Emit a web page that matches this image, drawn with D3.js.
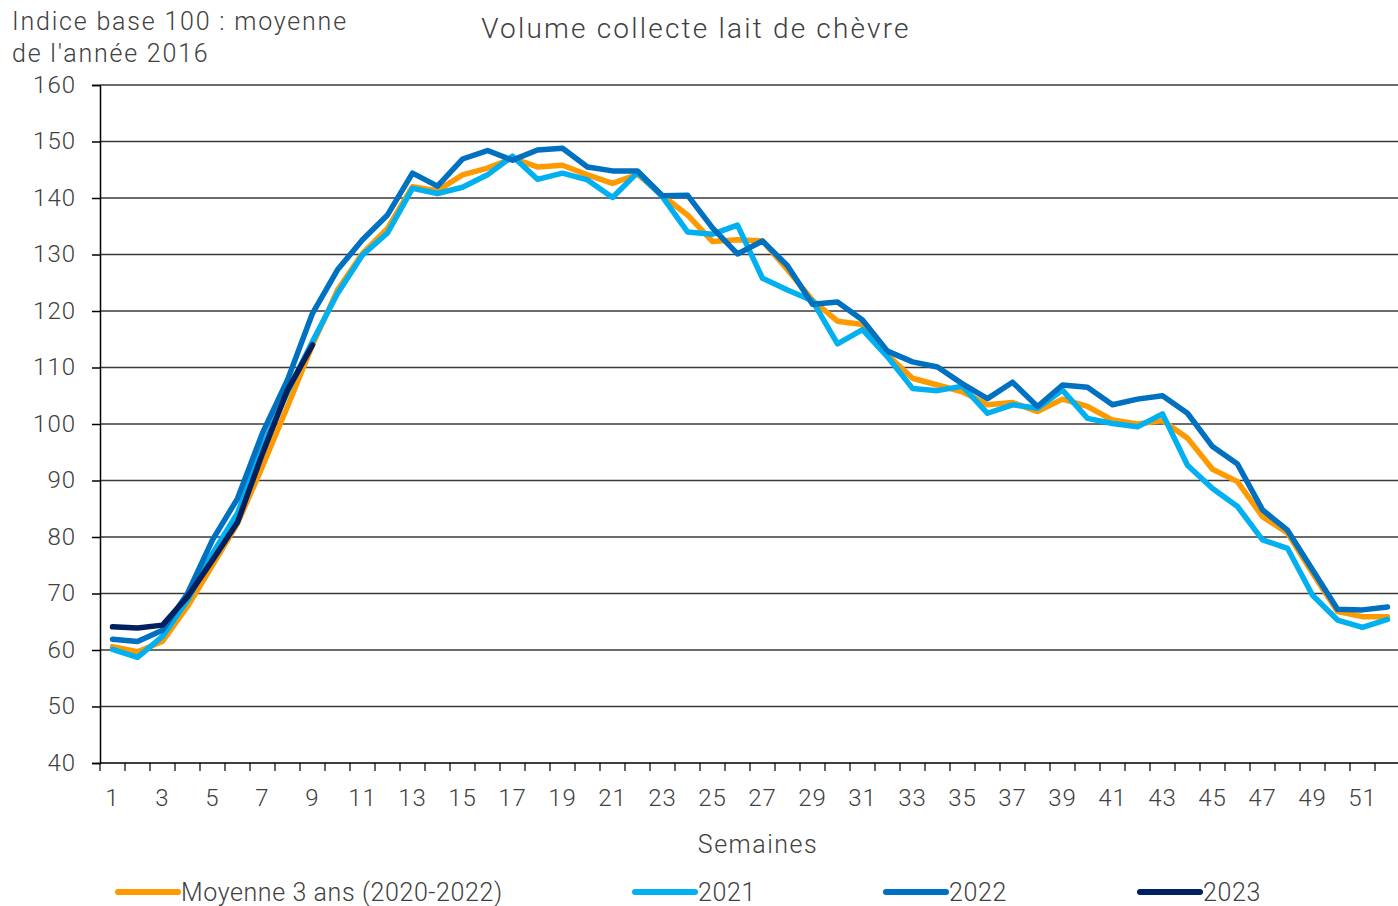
<!DOCTYPE html>
<html>
<head>
<meta charset="utf-8">
<script src="https://cdn.jsdelivr.net/npm/d3@7"></script>
<style>
  body { margin: 0; background: #fff; }
  text { font-family: Roboto, "Open Sans", sans-serif; font-weight: 300; fill: #404040; }
</style>
</head>
<body>
<svg id="chart"></svg>
<script>
const WEEKS = d3.range(1, 53);

const MOYENNE = [60.6, 59.7, 61.5, 67.7, 75.0, 82.4, 92.5, 103.1, 114.0, 123.7,
    130.2, 134.6, 142.0, 141.3, 144.1, 145.3, 147.0, 145.5, 145.8, 144.1,
    142.6, 144.2, 140.4, 137.0, 132.3, 132.6, 132.4, 127.3, 121.9, 118.2,
    117.6, 112.2, 108.1, 106.9, 105.7, 103.4, 103.8, 102.2, 104.4, 103.1,
    100.7, 100.0, 100.6, 97.5, 92.0, 89.8, 83.6, 80.7, 73.6, 66.8,
    65.9, 65.9];

const Y2021 = [60.1, 58.7, 62.4, 68.8, 77.1, 84.2, 96.0, 105.7, 114.6, 123.1,
    129.9, 133.8, 141.7, 140.8, 141.9, 144.1, 147.4, 143.3, 144.4, 143.2,
    140.1, 144.5, 140.2, 134.0, 133.6, 135.2, 125.8, 123.7, 121.8, 114.2,
    116.7, 111.9, 106.3, 105.9, 106.7, 101.9, 103.4, 102.8, 106.0, 101.0,
    100.1, 99.5, 101.8, 92.7, 88.6, 85.4, 79.5, 78.0, 69.7, 65.3,
    64.0, 65.4];

const Y2022 = [61.9, 61.5, 63.5, 70.0, 79.5, 86.8, 98.4, 107.8, 119.6, 127.3,
    132.6, 137.0, 144.4, 142.1, 146.9, 148.4, 146.7, 148.5, 148.8, 145.5,
    144.8, 144.8, 140.4, 140.5, 134.7, 130.1, 132.4, 128.0, 121.2, 121.6,
    118.4, 112.9, 111.0, 110.1, 107.1, 104.5, 107.4, 103.1, 106.9, 106.5,
    103.4, 104.4, 105.0, 101.9, 96.0, 92.9, 84.8, 81.2, 74.2, 67.2,
    67.1, 67.6];

const Y2023 = [64.1, 63.9, 64.4, 69.4, 75.9, 82.6, 94.8, 106.0, 114.0];

const Y_TICKS = d3.range(40, 161, 10);
const X_LABELS = WEEKS.filter(w => w % 2 === 1);

const SERIES = [
    { name: "Moyenne 3 ans (2020-2022)", values: MOYENNE, color: "#FF9900" },
    { name: "2021", values: Y2021, color: "#00B0F0" },
    { name: "2022", values: Y2022, color: "#0070C0" },
    { name: "2023", values: Y2023, color: "#002060" }
];

const WIDTH = 1398;
const HEIGHT = 906;

const svg = d3.select("#chart")
    .attr("width", WIDTH)
    .attr("height", HEIGHT);

const x = d3.scaleBand()
    .domain(WEEKS)
    .range([100, 1400])
    .padding(0);

const y = d3.scaleLinear()
    .domain([40, 160])
    .range([763, 85]);

// horizontal gridlines
svg.append("g")
    .selectAll("line")
    .data(Y_TICKS)
    .enter().append("line")
    .attr("x1", 100)
    .attr("x2", WIDTH)
    .attr("y1", d => y(d))
    .attr("y2", d => y(d))
    .attr("stroke", d => d === 40 ? "#000" : "#3a3a3a")
    .attr("stroke-width", 1.5);

// y axis
const yAxis = svg.append("g")
    .attr("transform", "translate(100,0)")
    .call(d3.axisLeft(y).tickValues(Y_TICKS).tickSize(8).tickPadding(16));
yAxis.select(".domain").attr("stroke", "#000").attr("stroke-width", 1.5);
yAxis.selectAll(".tick line").attr("stroke", "#000").attr("stroke-width", 1.5);
yAxis.selectAll(".tick text")
    .style("font-size", "24px")
    .style("font-family", "Roboto, sans-serif")
    .style("letter-spacing", "1px")
    .attr("dy", "0.3em");

// x axis labels
const xAxis = svg.append("g")
    .attr("transform", "translate(0,763)")
    .call(d3.axisBottom(x).tickValues(X_LABELS).tickSize(0).tickPadding(26));
xAxis.select(".domain").remove();
xAxis.selectAll(".tick text")
    .style("font-size", "24px")
    .style("font-family", "Roboto, sans-serif")
    .style("letter-spacing", "1px");

// x axis ticks on the band edges
svg.append("g")
    .selectAll("line")
    .data(WEEKS)
    .enter().append("line")
    .attr("x1", d => x(d))
    .attr("x2", d => x(d))
    .attr("y1", 763)
    .attr("y2", 771)
    .attr("stroke", "#000")
    .attr("stroke-width", 1.2);

const line = d3.line()
    .x((d, i) => x(WEEKS[i]) + x.bandwidth() / 2)
    .y(d => y(d));

svg.append("g")
    .selectAll("path")
    .data(SERIES)
    .enter().append("path")
    .attr("fill", "none")
    .attr("stroke", d => d.color)
    .attr("stroke-width", 5.5)
    .attr("stroke-linejoin", "round")
    .attr("stroke-linecap", "round")
    .attr("d", d => line(d.values));

// titles
svg.append("text")
    .attr("x", 696)
    .attr("y", 38)
    .attr("text-anchor", "middle")
    .style("font-size", "28px")
    .style("letter-spacing", "2.2px")
    .text("Volume collecte lait de chèvre");

svg.append("text")
    .attr("x", 12)
    .attr("y", 30)
    .style("font-size", "25px")
    .style("letter-spacing", "1.8px")
    .text("Indice base 100 : moyenne");

svg.append("text")
    .attr("x", 12)
    .attr("y", 62)
    .style("font-size", "25px")
    .style("letter-spacing", "1.8px")
    .text("de l'année 2016");

svg.append("text")
    .attr("x", 758)
    .attr("y", 853)
    .attr("text-anchor", "middle")
    .style("font-size", "25px")
    .style("letter-spacing", "1.5px")
    .text("Semaines");

// legend
const LEGEND_X = [118, 635, 886, 1140];
const legend = svg.selectAll(".legend")
    .data(SERIES)
    .enter().append("g")
    .attr("class", "legend")
    .attr("transform", (d, i) => "translate(" + LEGEND_X[i] + ",892)");

legend.append("line")
    .attr("x1", 0)
    .attr("x2", 60)
    .attr("stroke", d => d.color)
    .attr("stroke-width", 6)
    .attr("stroke-linecap", "round");

legend.append("text")
    .attr("x", 63)
    .attr("dy", "0.35em")
    .style("font-size", "25px")
    .style("letter-spacing", "0.6px")
    .text(d => d.name);
</script>
</body>
</html>
